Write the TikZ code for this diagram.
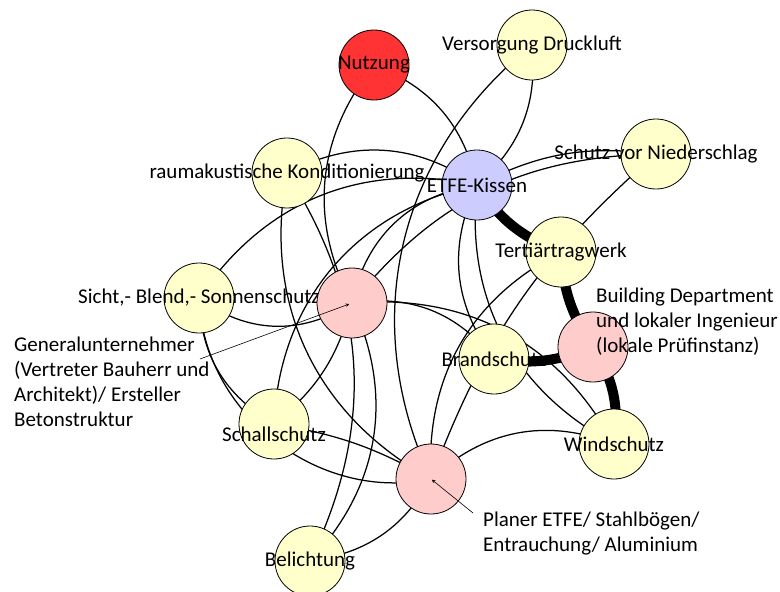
\documentclass[tikz,border=0pt]{standalone}
\usepackage{fontspec}
\setmainfont{Carlito}
\usepackage{tikz}
\usetikzlibrary{backgrounds}
\definecolor{topic}{HTML}{FFFFCC}
\definecolor{actor}{HTML}{FFCCCC}
\definecolor{kissen}{HTML}{CCCCFF}
\definecolor{usecol}{HTML}{FF3333}

\begin{document}
\begin{tikzpicture}[x=1pt,y=-1pt,
  bubble/.style={circle,draw=black,line width=0.8pt,minimum size=70pt,inner sep=0pt},
  link/.style={line width=1.25pt},
  heavy/.style={line width=10pt},
  lab/.style={font=\fontsize{21}{25}\selectfont,inner sep=0pt},
  every label/.style={lab}]
  \useasboundingbox (0,0) rectangle (780,592);
  \node[bubble,fill=usecol,label=center:Nutzung] (nutzung) at (374,65) {};
  \node[bubble,fill=topic,label=center:Versorgung Druckluft] (druckluft) at (532,45) {};
  \node[bubble,fill=topic,label=center:Schutz vor Niederschlag] (niederschlag) at (656,154) {};
  \node[bubble,fill=topic,label=center:raumakustische Konditionierung] (akustik) at (287,173) {};
  \node[bubble,fill=kissen,label=center:ETFE-Kissen] (kissen) at (477,185) {};
  \node[bubble,fill=topic,label=center:Tertiärtragwerk] (tertiaer) at (561,252) {};
  \node[bubble,fill=topic,label=center:{Sicht,- Blend,- Sonnenschutz}] (sonnenschutz) at (199,298) {};
  \node[bubble,fill=actor] (genu) at (352,303) {};
  \node[bubble,fill=actor] (behoerde) at (593,347) {};
  \node[bubble,fill=topic,label=center:Brandschutz] (brand) at (494,359) {};
  \node[bubble,fill=topic,label={[yshift=-10pt]center:Schallschutz}] (schall) at (274,424) {};
  \node[bubble,fill=topic,label=center:Windschutz] (wind) at (614,444) {};
  \node[bubble,fill=actor] (planer) at (431,479) {};
  \node[bubble,fill=topic,label=center:Belichtung] (licht) at (310,561) {};

  % links, drawn under the bubbles
  \begin{scope}[on background layer]
    \draw[link] (nutzung.center) to[bend right=33] (genu.center);
    \draw[link] (nutzung.center) to[bend left=28] (kissen.center);
    \draw[link] (druckluft.center) to[bend left=27] (kissen.center);
    \draw[link] (druckluft.center) to[bend right=38] (planer.center);
    \draw[link] (kissen.center) to[bend left=17] (niederschlag.center);
    \draw[link] (akustik.center) to[bend left=31] (kissen.center);
    \draw[link] (sonnenschutz.center) to[bend left=34] (kissen.center);
    \draw[link] (genu.center) to[bend left=25] (niederschlag.center);
    \draw[link] (genu.center) to[bend left=35] (kissen.center);
    \draw[link] (schall.center) to[bend left=38] (kissen.center);
    \draw[link] (akustik.center) to[bend left=29] (licht.center);
    \draw[link] (akustik.center) to[bend right=36] (planer.center);
    \draw[link] (kissen.center) to[bend right=31] (brand.center);
    \draw[link] (kissen.center) to[bend right=34] (wind.center);
    \draw[link] (genu.center) to[bend left=30] (brand.center);
    \draw[link] (genu.center) to[bend left=33] (wind.center);
    \draw[link] (tertiaer.center) to[bend right=33] (planer.center);
    \draw[link] (niederschlag.center) to[bend right=14] (planer.center);
    \draw[link] (sonnenschutz.center) to[bend right=35] (genu.center);
    \draw[link] (sonnenschutz.center) to[bend right=29] (schall.center);
    \draw[link] (sonnenschutz.center) to[bend right=50] (planer.center);
    \draw[link] (genu.center) to[bend left=18] (schall.center);
    \draw[link] (genu.center) to[bend left=34] (licht.center);
    \draw[link] (schall.center) to[bend left=10] (planer.center);
    \draw[link] (planer.center) to[bend left=32] (wind.center);
    \draw[link] (planer.center) to[bend left=26] (licht.center);
    % heavy links
    \draw[heavy] (kissen.center) to[bend right=18] (tertiaer.center);
    \draw[heavy] (tertiaer.center) to[bend right=15] (behoerde.center);
    \draw[heavy] (behoerde.center) to[bend left=20] (wind.center);
    \draw[heavy] (brand.center) to[bend right=15] (behoerde.center);
  \end{scope}

  % labels of the three parties
  \node[lab,anchor=north west,align=left] (genutext) at (14,337)
    {Generalunternehmer\\(Vertreter Bauherr und\\Architekt)/ Ersteller\\Betonstruktur};
  \node[lab,anchor=north west,align=left] (behoerdetext) at (596,288)
    {Building Department\\und lokaler Ingenieur\\(lokale Prüfinstanz)};
  \node[lab,anchor=north west,align=left] (planertext) at (483,512)
    {Planer ETFE/ Stahlbögen/\\Entrauchung/ Aluminium};
  \coordinate (genutail) at (200,359);
  \coordinate (planertail) at (473,513);
  \draw[-stealth,line width=0.6pt,shorten >=3pt] (genutail) -- (genu.center);
  \draw[-stealth,line width=0.6pt,shorten >=1pt] (planertail) -- (planer.center);
\end{tikzpicture}
\end{document}
